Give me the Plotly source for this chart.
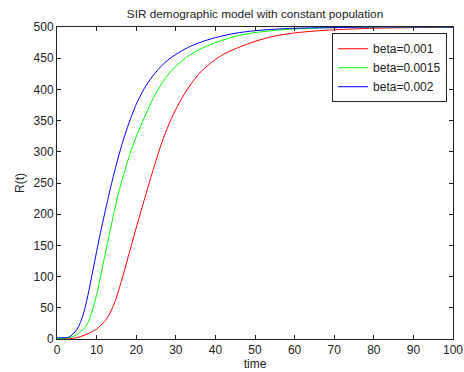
import plotly.graph_objects as go

# Data
t_blue = [0, 3, 4, 5, 6, 7, 8, 9, 10, 11, 12, 13, 14, 15, 16, 17, 18, 19, 20, 22, 24, 26, 28, 30, 33, 36, 40, 45, 50, 55, 60, 70, 80, 90, 100]
r_blue = [2, 3, 8, 15, 28, 48, 76, 108, 140, 171, 200, 228, 255, 280, 303, 324, 343, 360, 376, 401, 420, 435, 447, 456, 467, 475, 483, 490, 494, 496.5, 498, 499, 500, 500, 500]

t_green = [0, 3, 4, 5, 6, 7, 8, 9, 10, 11, 12, 13, 14, 15, 16, 17, 18, 19, 20, 22, 24, 26, 28, 30, 33, 36, 40, 45, 50, 55, 60, 70, 80, 90, 100]
r_green = [1, 2, 4, 7, 12, 18, 29, 47, 71, 100, 131, 161, 191, 220, 245, 267, 288, 307, 324, 354, 382, 405, 423, 437, 453, 464, 475, 485, 491, 494.5, 497, 499, 500, 500, 500]

t_red = [0, 4, 6, 8, 10, 12, 13, 14, 15, 16, 17, 18, 19, 20, 21, 22, 23, 24, 25, 26, 27, 28, 29, 30, 32, 34, 36, 38, 40, 42, 45, 50, 55, 60, 65, 70, 80, 90, 100]
r_red = [0, 1, 4, 9, 16, 28, 37, 50, 66, 87, 109, 132, 155, 178, 200, 222, 244, 265, 286, 306, 324, 340, 355, 368, 391, 410, 426, 438, 448, 456, 465, 477, 485.5, 490.5, 493.5, 495.5, 498, 499, 499.5]

series = [
    ("beta=0.001", t_red, r_red, "#ff0000"),
    ("beta=0.0015", t_green, r_green, "#00ff00"),
    ("beta=0.002", t_blue, r_blue, "#0000ff"),
]

x_ticks = [0, 10, 20, 30, 40, 50, 60, 70, 80, 90, 100]
y_ticks = [0, 50, 100, 150, 200, 250, 300, 350, 400, 450, 500]

fig = go.Figure()
for name, xs, ys, col in series:
    fig.add_trace(go.Scatter(x=xs, y=ys, mode="lines", name=name,
                             line=dict(color=col, width=1, shape="spline", smoothing=0.8)))

FAM = "Liberation Sans, Arial, sans-serif"
font = dict(family=FAM, size=12, color="#222222")
axis_common = dict(showgrid=False, zeroline=False, showline=True, linecolor="#222222",
                   linewidth=1, mirror="ticks", ticks="inside", ticklen=4,
                   tickcolor="#222222", tickfont=font, automargin=False)

fig.update_layout(
    width=464, height=372,
    margin=dict(l=57, r=11, t=27, b=33, autoexpand=False),
    paper_bgcolor="white", plot_bgcolor="white",
    font=font,
    title=dict(text="SIR demographic model with constant population", xref="paper", x=0.5,
               xanchor="center", y=1 - 14 / 372, yanchor="middle",
               font=dict(family=FAM, size=11.8, color="#222222")),
    xaxis=dict(range=[0, 100], tickvals=x_ticks, title=dict(text="time", standoff=2, font=font), **axis_common),
    yaxis=dict(range=[0, 500], tickvals=y_ticks, title=dict(text="R(t)", standoff=6, font=font), **axis_common),
    legend=dict(x=0.985, y=0.98, xanchor="right", yanchor="top", bgcolor="white",
                bordercolor="#222222", borderwidth=1, font=font, tracegroupgap=0),
    showlegend=True,
)

fig.write_html("out.html")
